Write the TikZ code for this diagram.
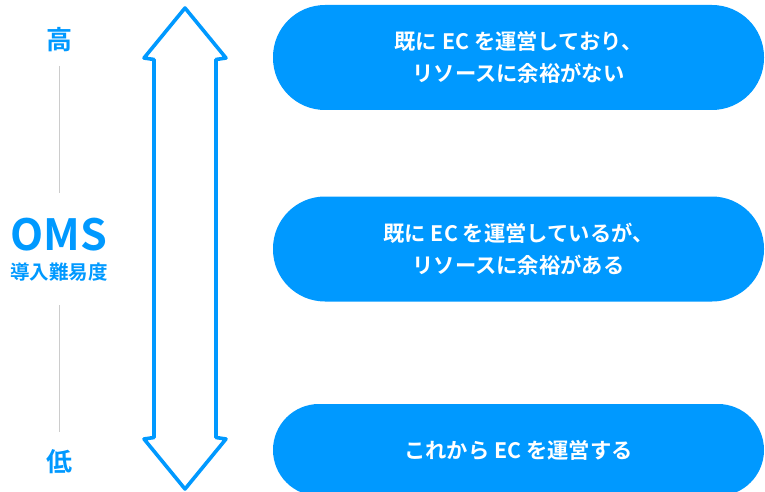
\documentclass[tikz,border=0pt]{standalone}
\usepackage{fontspec}
\newfontfamily\jpb{Noto Sans CJK JP}[BoldFont=* Bold]
\definecolor{oblue}{RGB}{0,153,255}
\definecolor{lgray}{RGB}{204,204,204}
\tikzset{
  pill/.style={fill=oblue, draw=none, rounded corners=52pt, minimum width=491pt, minimum height=105pt,
    text=white, align=center, font=\jpb\bfseries\fontsize{21.3}{32.5}\selectfont, inner sep=0pt},
  lbl/.style={text=oblue, font=\jpb\bfseries, inner sep=0pt},
  scale line/.style={draw=lgray, line width=1pt},
  bigarrow/.style={draw=oblue, line width=3.6pt, line join=round, fill=white}
}
\begin{document}
\begin{tikzpicture}[x=1pt,y=-1pt]
\clip (0,0) rectangle (765,492);
\fill[white] (0,0) rectangle (765,492);
% left scale
\node[lbl, font=\jpb\bfseries\fontsize{26}{30}\selectfont] (hi) at (59,40) {高};
\node[lbl, font=\jpb\bfseries\fontsize{43}{46}\selectfont] (oms) at (59,235) {OMS};
\node[lbl, font=\jpb\bfseries\fontsize{19.5}{22}\selectfont] (diff) at (59,272) {導入難易度};
\node[lbl, font=\jpb\bfseries\fontsize{26}{30}\selectfont] (lo) at (59,462) {低};
\coordinate (l1a) at (59,66);
\coordinate (l1b) at (59,193);
\coordinate (l2a) at (59,305);
\coordinate (l2b) at (59,432);
\draw[scale line] (l1a) -- (l1b);
\draw[scale line] (l2a) -- (l2b);
% double arrow
\draw[bigarrow] (185,8) -- (144,58) -- (154,59.5) -- (154,437.5) -- (144,439) -- (185,489)
  -- (226,439) -- (216,437.5) -- (216,59.5) -- (226,58) -- cycle;
% pills
\node[pill] (p1) at (518.5,57.5) {既に EC を運営しており、\\リソースに余裕がない};
\node[pill] (p2) at (518.5,249) {既に EC を運営しているが、\\リソースに余裕がある};
\node[pill, minimum height=92pt, rounded corners=46pt] (p3) at (518.5,450) {これから EC を運営する};
\end{tikzpicture}
\end{document}
